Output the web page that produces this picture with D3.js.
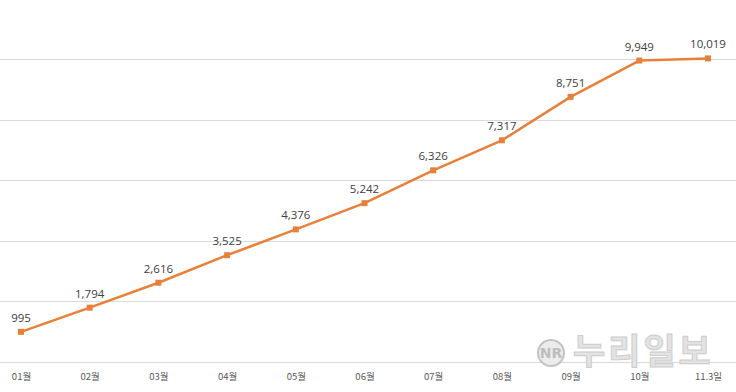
<!DOCTYPE html>
<html>
<head>
<meta charset="utf-8">
<script src="https://cdn.jsdelivr.net/npm/d3@7"></script>
<style>
    body { margin: 0; background: #fff; }
    svg { display: block; }
</style>
</head>
<body>
<div id="main"></div>
<script>
const ctx = {
    w: 736,
    h: 392
};

// categories and values
const months = ["01월", "02월", "03월", "04월", "05월", "06월", "07월", "08월", "09월", "10월", "11.3일"];
const counts = [995, 1794, 2616, 3525, 4376, 5242, 6326, 7317, 8751, 9949, 10019];
const gridTicks = [0, 2000, 4000, 6000, 8000, 10000];

function createViz() {
    let svgEl = d3.select("#main").append("svg")
        .attr("width", ctx.w)
        .attr("height", ctx.h);

    let x = d3.scalePoint()
        .domain(months)
        .range([21, 708]);
    let y = d3.scaleLinear()
        .domain([0, 10000])
        .range([362, 59]);

    // horizontal gridlines (left axis, lines stretched across the plot)
    let yAxis = d3.axisLeft(y)
        .tickValues(gridTicks)
        .tickSize(-ctx.w)
        .tickFormat("");
    let gridG = svgEl.append("g")
        .call(yAxis);
    gridG.select(".domain").remove();
    gridG.selectAll(".tick line")
        .attr("stroke", "#d9d9d9")
        .attr("stroke-width", 1)
        .attr("shape-rendering", "crispEdges");

    // watermark
    let wm = svgEl.append("g").attr("id", "watermark");
    wm.append("circle")
        .attr("cx", 551).attr("cy", 353).attr("r", 13)
        .attr("fill", "#ececec").attr("stroke", "#c4c4c4").attr("stroke-width", 2);
    wm.append("text")
        .attr("x", 551).attr("y", 358)
        .attr("text-anchor", "middle")
        .style("font-family", "DejaVu Sans, sans-serif")
        .style("font-size", "14px")
        .style("font-weight", "bold")
        .attr("fill", "#bdbdbd")
        .text("NR");
    wm.append("text")
        .attr("x", 573).attr("y", 364)
        .style("font-family", "'Noto Sans CJK KR', sans-serif")
        .style("font-size", "35px")
        .style("font-weight", "bold")
        .style("letter-spacing", "3px")
        .attr("fill", "#e3e3e3")
        .attr("stroke", "#cdcdcd")
        .attr("stroke-width", 1)
        .text("누리일보");

    // x axis labels
    let xAxis = d3.axisBottom(x).tickSize(0).tickPadding(0);
    let xG = svgEl.append("g")
        .attr("transform", "translate(0,375)")
        .call(xAxis);
    xG.select(".domain").remove();
    xG.selectAll("text")
        .attr("dy", "0.55em")
        .attr("fill", "#595959")
        .style("font-family", "'Noto Sans CJK KR', sans-serif")
        .style("font-size", "9.5px");

    let data = months.map((m, i) => ({ month: m, value: counts[i] }));

    // line
    let line = d3.line()
        .x(d => x(d.month))
        .y(d => y(d.value));
    svgEl.append("path")
        .datum(data)
        .attr("d", line)
        .attr("fill", "none")
        .attr("stroke", "#e8803a")
        .attr("stroke-width", 2.5)
        .attr("stroke-linejoin", "round");

    // square markers
    svgEl.append("g")
        .selectAll("rect")
        .data(data)
        .enter()
        .append("rect")
        .attr("x", d => x(d.month) - 3)
        .attr("y", d => y(d.value) - 3)
        .attr("width", 6)
        .attr("height", 6)
        .attr("fill", "#e8803a");

    // data labels
    svgEl.append("g")
        .selectAll("text")
        .data(data)
        .enter()
        .append("text")
        .attr("x", d => x(d.month))
        .attr("y", d => y(d.value) - 10)
        .attr("text-anchor", "middle")
        .attr("fill", "#404040")
        .style("font-family", "'Open Sans', sans-serif")
        .style("font-size", "11.5px")
        .text(d => d3.format(",")(d.value));
}

createViz();
</script>
</body>
</html>
